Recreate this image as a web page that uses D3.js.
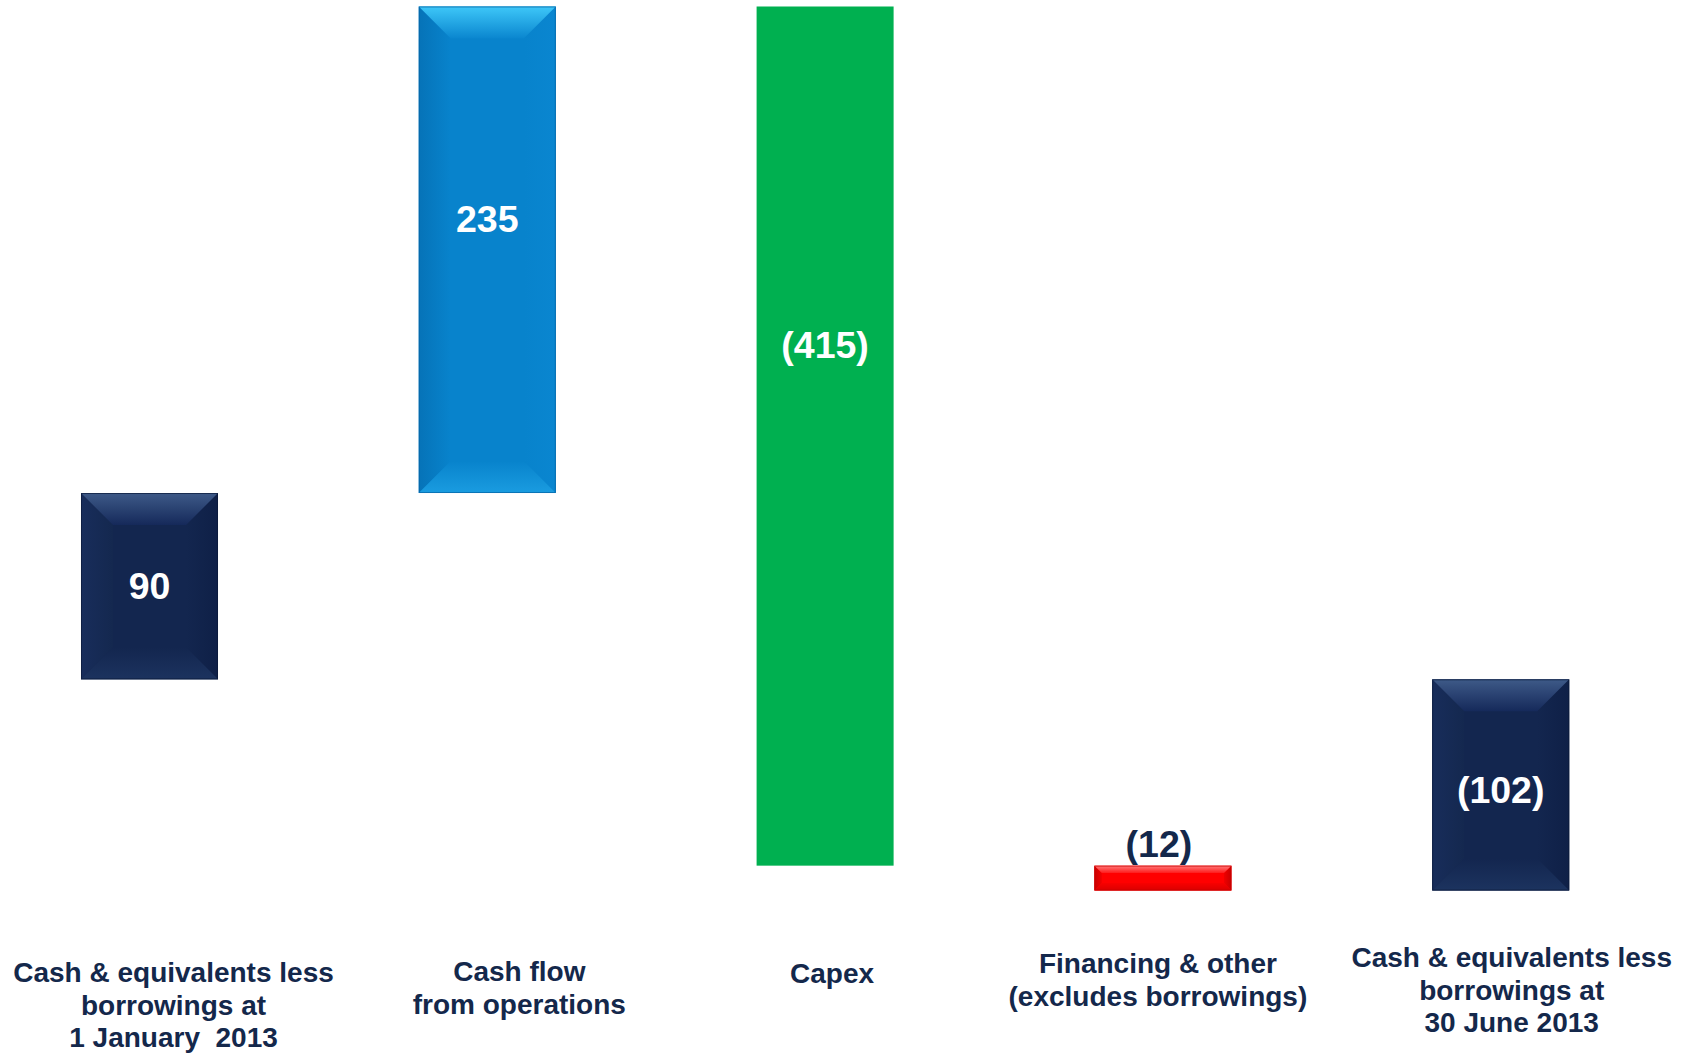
<!DOCTYPE html>
<html>
<head>
<meta charset="utf-8">
<script src="https://cdn.jsdelivr.net/npm/d3@7"></script>
<style>
  html, body { margin: 0; padding: 0; background: #ffffff; }
  svg { display: block; font-family: "Liberation Sans", Arial, sans-serif; }
</style>
</head>
<body>
<svg id="chart" width="1690" height="1054"></svg>
<script>
// Net cash bridge, H1 2013
const categories = [
  ["Cash & equivalents less", "borrowings at", "1 January  2013"],
  ["Cash flow", "from operations"],
  ["Capex"],
  ["Financing & other", "(excludes borrowings)"],
  ["Cash & equivalents less", "borrowings at", "30 June 2013"]
];
const values = [90, 235, -415, -12, -102];
const kinds = ["total", "delta", "delta", "delta", "total"];
const valueLabels = ["90", "235", "(415)", "(12)", "(102)"];
const styles = ["navy", "blue", "green", "red", "navy"];

// Layout
const W = 1690, H = 1054;
const svg = d3.select("#chart");
svg.append("rect").attr("width", W).attr("height", H).attr("fill", "#ffffff");

// running totals for the floating bars
let running = 0;
const bars = values.map((v, i) => {
  let lo, hi;
  if (kinds[i] === "total") {
    lo = Math.min(0, v); hi = Math.max(0, v); running = v;
  } else {
    const a = running, b = running + v;
    lo = Math.min(a, b); hi = Math.max(a, b); running = b;
  }
  return { i, lo, hi, value: v, label: valueLabels[i], style: styles[i], lines: categories[i] };
});

const y = d3.scaleLinear()
  .domain([d3.min(bars, d => d.lo), d3.max(bars, d => d.hi)])
  .range([890.5, 6.5]);

const x = d3.scaleBand()
  .domain(d3.range(categories.length))
  .range([-19.4, 1669.6])
  .paddingInner(0.5944)
  .paddingOuter(0.2972);

// Bevel palettes (soft facets that fade into the face colour)
const palettes = {
  navy: { base: "#13264F", edge: "#0C1A3A",
          top: ["#3E5A88", "#15295A"], bottom: ["#13264F", "#1C335F"],
          left: ["#182D5B", "#14284F"], right: ["#13264F", "#0F2047"] },
  blue: { base: "#0883CC", edge: "#0564A4",
          top: ["#3EC7F8", "#0A86CF"], bottom: ["#0883CC", "#1A9CE0"],
          left: ["#0673B8", "#0883CC"], right: ["#0883CC", "#0A86D0"] },
  red:  { base: "#FF0000", edge: "#C80000",
          top: ["#FF7A7A", "#FF1A1A"], bottom: ["#F80000", "#DA0000"],
          left: ["#C80000", "#F00000"], right: ["#F00000", "#C80000"] },
  green: { base: "#00B050" }
};

const defs = svg.append("defs");
function grad(id, c, vertical) {
  const g = defs.append("linearGradient").attr("id", id)
    .attr("x1", 0).attr("y1", 0)
    .attr("x2", vertical ? 0 : 1).attr("y2", vertical ? 1 : 0);
  g.append("stop").attr("offset", "0%").attr("stop-color", c[0]);
  g.append("stop").attr("offset", "100%").attr("stop-color", c[1]);
}
Object.entries(palettes).forEach(([k, p]) => {
  if (!p.top) return;
  grad(`g-${k}-top`, p.top, true);
  grad(`g-${k}-bottom`, p.bottom, true);
  grad(`g-${k}-left`, p.left, false);
  grad(`g-${k}-right`, p.right, false);
});

const gBars = svg.append("g");
bars.forEach(d => {
  const bx = x(d.i), bw = x.bandwidth();
  const by = y(d.hi), bh = y(d.lo) - y(d.hi);
  const p = palettes[d.style];
  const g = gBars.append("g");
  g.append("rect").attr("x", bx).attr("y", by).attr("width", bw).attr("height", bh)
    .attr("fill", p.base);
  if (!p.top) return;
  const b = Math.min(32, bh * 0.3, bw * 0.25);
  const pt = (a) => a.map(q => q.join(",")).join(" ");
  const x0 = bx, x1 = bx + bw, y0 = by, y1 = by + bh;
  g.append("polygon").attr("points", pt([[x0, y0], [x0 + b, y0 + b], [x0 + b, y1 - b], [x0, y1]]))
    .attr("fill", `url(#g-${d.style}-left)`);
  g.append("polygon").attr("points", pt([[x1, y0], [x1, y1], [x1 - b, y1 - b], [x1 - b, y0 + b]]))
    .attr("fill", `url(#g-${d.style}-right)`);
  g.append("polygon").attr("points", pt([[x0, y0], [x1, y0], [x1 - b, y0 + b], [x0 + b, y0 + b]]))
    .attr("fill", `url(#g-${d.style}-top)`);
  g.append("polygon").attr("points", pt([[x0 + b, y1 - b], [x1 - b, y1 - b], [x1, y1], [x0, y1]]))
    .attr("fill", `url(#g-${d.style}-bottom)`);
  g.append("rect").attr("x", bx + 0.5).attr("y", by + 0.5).attr("width", bw - 1).attr("height", bh - 1)
    .attr("fill", "none").attr("stroke", p.edge).attr("stroke-width", 1).attr("stroke-opacity", 0.7);
});

// Value labels: inside the bar (centred on its part above zero when it has one),
// small bars get the label above in dark text
const labelNudge = [0, -31, 2, 0, 5];
const gVals = svg.append("g").attr("font-weight", "bold").attr("font-size", 37.5)
  .attr("text-anchor", "middle");
bars.forEach(d => {
  const cx = x(d.i) + x.bandwidth() / 2;
  const small = (y(d.lo) - y(d.hi)) < 60;
  if (small) {
    gVals.append("text").attr("x", cx - 4).attr("y", y(d.hi) - 9)
      .attr("fill", "#14284B").text(d.label);
  } else {
    const top = d.hi, bot = d.hi > 0 ? Math.max(d.lo, 0) : d.lo;
    gVals.append("text").attr("x", cx).attr("y", y((top + bot) / 2) + labelNudge[d.i])
      .attr("dy", "0.35em").attr("fill", "#ffffff").text(d.label);
  }
});

// Category labels beneath the bars
const catDx = [24, 32, 7, -5, 11];
const catBaseline = [982, 981, 983, 973, 967];
const lineGap = 32.5;
const gCats = svg.append("g").attr("font-weight", "bold").attr("font-size", 28)
  .attr("text-anchor", "middle").attr("fill", "#14284B");
bars.forEach(d => {
  const cx = x(d.i) + x.bandwidth() / 2 + catDx[d.i];
  const t = gCats.append("text").attr("x", cx).attr("y", catBaseline[d.i]);
  d.lines.forEach((ln, k) => {
    t.append("tspan").attr("x", cx).attr("y", catBaseline[d.i] + k * lineGap)
      .style("white-space", "pre").text(ln);
  });
});
</script>
</body>
</html>
